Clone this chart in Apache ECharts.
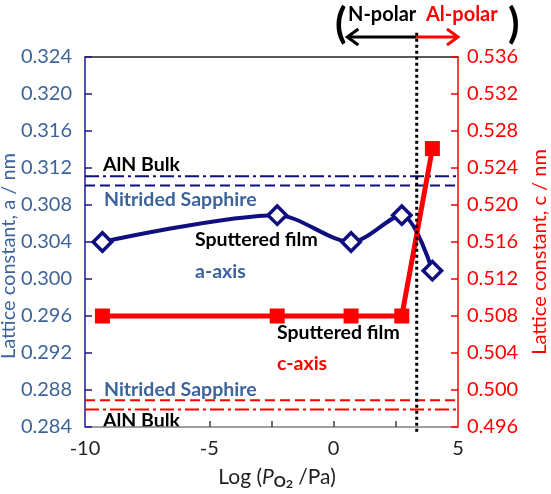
<!DOCTYPE html>
<html><head><meta charset="utf-8">
<script src="https://cdn.jsdelivr.net/npm/echarts@6/dist/echarts.min.js"></script>
<style>html,body{margin:0;padding:0;background:#fff}#c{width:551px;height:494px}</style>
</head><body><div id="c"></div>
<script>
// ---- data ----
const logP = [-9.3, -2.27, 0.7, 2.74, 3.97];
const aAxis = [0.304, 0.3069, 0.304, 0.3069, 0.3009];
const cAxis = [0.508, 0.508, 0.508, 0.508, 0.5261];
const aBulk = 0.3111;
const aNitrided = 0.3101;
const cNitrided = 0.4989;
const cBulk = 0.4979;
const xRange = [-10, 5];
const aRange = [0.284, 0.324];
const cRange = [0.496, 0.536];
const xMinorTicks = [-5, -2.5, 0, 2.5];
const boundaryX = 3.34;
const boundarySpan = [0.2835, 0.3269];
const arrowLeftEnd = 0.55;
const arrowRightEnd = 5.0;

const FONT = 'Lato';
const navy = '#0f0f80', steel = '#3d639b', red = '#ff0000';

const chart = echarts.init(document.getElementById('c'));
const hline = (v, yi, color, dash) => ({
  type: 'line', yAxisIndex: yi, symbol: 'none', silent: true,
  data: [[xRange[0], v], [xRange[1], v]],
  lineStyle: { color: color, width: 2, type: dash }
});
const option = {
  animation: false,
  grid: { left: 85, right: 93, top: 57, bottom: 67 },
  xAxis: [{
    type: 'value', min: xRange[0], max: xRange[1], interval: 5, position: 'bottom',
    axisLine: { onZero: false, lineStyle: { color: '#808080', width: 1.5 } },
    axisTick: { show: true, inside: true, length: 6, customValues: xMinorTicks, lineStyle: { color: '#404040', width: 1.5 } },
    axisLabel: { color: '#222', fontSize: 20, fontFamily: FONT, margin: 12 },
    splitLine: { show: false }
  }, {
    type: 'value', min: xRange[0], max: xRange[1], position: 'top',
    axisLine: { onZero: false, lineStyle: { color: '#595959', width: 2 } },
    axisTick: { show: false }, axisLabel: { show: false }, splitLine: { show: false }
  }],
  yAxis: [{
    type: 'value', min: aRange[0], max: aRange[1], interval: 0.004, position: 'left',
    axisLine: { show: true, onZero: false, lineStyle: { color: '#1a1a8c', width: 1.5 } },
    axisTick: { show: true, inside: true, length: 7, lineStyle: { color: '#1a1a8c', width: 1.5 } },
    axisLabel: { color: steel, fontSize: 20, fontFamily: FONT, margin: 13, formatter: v => v.toFixed(3) },
    splitLine: { show: false }
  }, {
    type: 'value', min: cRange[0], max: cRange[1], interval: 0.004, position: 'right',
    axisLine: { show: true, onZero: false, lineStyle: { color: red, width: 1.5 } },
    axisTick: { show: true, inside: true, length: 7, lineStyle: { color: red, width: 1.5 } },
    axisLabel: { color: red, fontSize: 20, fontFamily: FONT, margin: 9, formatter: v => v.toFixed(3) },
    splitLine: { show: false }
  }],
  series: [
    hline(aBulk, 0, navy, [14, 4, 3, 4]),
    hline(aNitrided, 0, navy, [10, 5]),
    hline(cNitrided, 1, red, [10, 5]),
    hline(cBulk, 1, red, [14, 4, 3, 4]),
    {
      type: 'line', yAxisIndex: 0, smooth: 0.3,
      data: logP.map((x, i) => [x, aAxis[i]]),
      lineStyle: { color: navy, width: 4 },
      symbol: 'rect', symbolSize: 13, symbolRotate: 45, showAllSymbol: true,
      itemStyle: { color: '#fff', borderColor: navy, borderWidth: 3.5 }, z: 3
    },
    {
      type: 'line', yAxisIndex: 1,
      data: logP.map((x, i) => [x, cAxis[i]]),
      lineStyle: { color: red, width: 5 },
      symbol: 'rect', symbolSize: 15, showAllSymbol: true,
      itemStyle: { color: red }, z: 4
    },
    {
      type: 'line', yAxisIndex: 0, symbol: 'none', clip: false, silent: true,
      data: [[boundaryX, boundarySpan[0]], [boundaryX, boundarySpan[1]]],
      lineStyle: { color: '#000', width: 3, type: [3, 3] }, z: 5
    }
  ]
};
chart.setOption(option);

const px = x => chart.convertToPixel({ xAxisIndex: 0 }, x);
const bx = px(boundaryX), lx = px(arrowLeftEnd), rx = px(arrowRightEnd);
const ay = 37;
const txt = (text, x, y, color, size, extra) => Object.assign({
  type: 'text', silent: true,
  style: Object.assign({ text: text, x: x, y: y, fill: color, fontSize: size, fontFamily: FONT, fontWeight: 'bold', verticalAlign: 'middle' }, extra || {})
});
const AS = 19.5;
chart.setOption({
  graphic: [
    { type: 'polyline', shape: { points: [[bx, ay], [lx, ay]] }, style: { stroke: '#000', lineWidth: 3 } },
    { type: 'polyline', shape: { points: [[lx + 11, ay - 8], [lx, ay], [lx + 11, ay + 8]] }, style: { stroke: '#000', lineWidth: 3, fill: null } },
    { type: 'polyline', shape: { points: [[bx, ay], [rx, ay]] }, style: { stroke: red, lineWidth: 3 } },
    { type: 'polyline', shape: { points: [[rx - 11, ay - 8], [rx, ay], [rx - 11, ay + 8]] }, style: { stroke: red, lineWidth: 3, fill: null } },
    txt('(', 335, 24, '#000', 42, { align: 'left' }),
    txt(')', 508, 24, '#000', 42, { align: 'left' }),
    txt('N-polar', 348, 15, '#000', 20, { align: 'left' }),
    txt('Al-polar', 426, 15, red, 20, { align: 'left' }),
    txt('AlN Bulk', 103, 165, '#000', AS, { align: 'left' }),
    txt('Nitrided Sapphire', 104, 200, steel, AS, { align: 'left' }),
    txt('Sputtered film', 195, 240, '#000', AS, { align: 'left' }),
    txt('a-axis', 195, 272, steel, AS, { align: 'left' }),
    txt('Sputtered film', 277, 333, '#000', AS, { align: 'left' }),
    txt('c-axis', 277, 364, red, AS, { align: 'left' }),
    txt('Nitrided Sapphire', 104, 390, steel, AS, { align: 'left' }),
    txt('AlN Bulk', 103, 421, '#000', AS, { align: 'left' }),
    {
      type: 'text', silent: true, rotation: Math.PI / 2, x: 9, y: 256,
      style: { text: 'Lattice constant, a / nm', fill: steel, fontSize: 20, fontFamily: FONT, align: 'center', verticalAlign: 'middle' }
    },
    {
      type: 'text', silent: true, rotation: Math.PI / 2, x: 540, y: 252,
      style: { text: 'Lattice constant, c / nm', fill: red, fontSize: 20, fontFamily: FONT, align: 'center', verticalAlign: 'middle' }
    },
    {
      type: 'text', silent: true, x: 277, y: 477,
      style: {
        text: '{n|Log (}{i|P}{s|O}{t|2}{n| /Pa)}', align: 'center', verticalAlign: 'middle',
        rich: {
          n: { fontSize: 21, fontFamily: FONT, fill: '#222', lineHeight: 26, verticalAlign: 'middle' },
          i: { fontSize: 21, fontFamily: FONT, fill: '#222', fontStyle: 'italic', lineHeight: 26, verticalAlign: 'middle' },
          s: { fontSize: 15, fontFamily: FONT, fill: '#222', fontWeight: 'bold', lineHeight: 16, verticalAlign: 'bottom' },
          t: { fontSize: 12, fontFamily: FONT, fill: '#222', fontWeight: 'bold', lineHeight: 11, verticalAlign: 'bottom' }
        }
      }
    }
  ]
});
</script></body></html>
